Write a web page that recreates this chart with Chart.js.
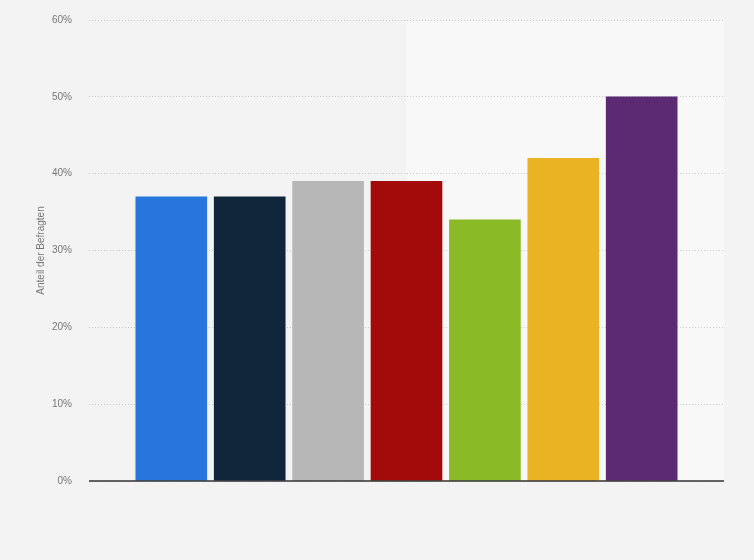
<!DOCTYPE html>
<html lang="de">
<head>
    <meta charset="UTF-8">
    <title>Anteil der Befragten</title>
    <style>
        html, body {
            margin: 0;
            padding: 0;
            background-color: #f3f3f3;
        }

        .chart-box {
            position: relative;
            width: 754px;
            height: 560px;
        }
    </style>
</head>
<body>

<div class="chart-box">
    <canvas id="surveyChart"></canvas>
</div>

<script src="https://cdn.jsdelivr.net/npm/chart.js"></script>
<script>
    // data (no category labels shown)
    const categories = ['1', '2', '3', '4', '5', '6', '7'];
    const shares = [37, 37, 39, 39, 34, 42, 50];
    const barColors = ['#2876dd', '#10263b', '#b7b7b7', '#a30a0a', '#8aba25', '#eab323', '#5c2a73'];
    const yTicks = [0, 10, 20, 30, 40, 50, 60];

    // lighter right half of the plot + solid baseline at 0%
    const plotDecor = {
        id: 'plotDecor',
        beforeDraw(chart) {
            const { ctx, chartArea } = chart;
            const mid = (chartArea.left + chartArea.right) / 2;
            ctx.save();
            ctx.fillStyle = '#f8f8f8';
            ctx.fillRect(mid, chartArea.top, chartArea.right - mid, chartArea.bottom - chartArea.top);
            ctx.restore();
        },
        afterDatasetsDraw(chart) {
            const { ctx, chartArea, scales } = chart;
            const y0 = scales.y.getPixelForValue(0);
            ctx.save();
            ctx.strokeStyle = '#333333';
            ctx.lineWidth = 1.5;
            ctx.beginPath();
            ctx.moveTo(chartArea.left, y0);
            ctx.lineTo(chartArea.right, y0);
            ctx.stroke();
            ctx.restore();
        }
    };

    const ctx = document.getElementById('surveyChart').getContext('2d');
    const surveyChart = new Chart(ctx, {
        type: 'bar',
        data: {
            datasets: [{
                label: 'Anteil der Befragten',
                data: shares.map((v, i) => ({ x: i, y: v })),
                backgroundColor: barColors,
                borderWidth: 0,
                barThickness: 71
            }]
        },
        options: {
            responsive: true,
            maintainAspectRatio: false,
            animation: false,
            layout: {
                padding: { left: 35, right: 30, top: 20, bottom: 79 }
            },
            plugins: {
                legend: { display: false },
                tooltip: { enabled: false }
            },
            scales: {
                x: {
                    type: 'linear',
                    display: false,
                    offset: false,
                    grid: { offset: false },
                    min: -1.05,
                    max: categories.length - 1 + 1.05
                },
                y: {
                    min: 0,
                    max: 60,
                    afterBuildTicks(scale) {
                        scale.ticks = yTicks.map(v => ({ value: v }));
                    },
                    afterFit(scale) {
                        scale.width = 54;
                    },
                    grid: {
                        color: '#c9c9c9',
                        drawTicks: true,
                        tickLength: 14,
                        tickColor: 'rgba(0,0,0,0)'
                    },
                    border: {
                        display: false,
                        dash: [1, 2]
                    },
                    ticks: {
                        padding: 3,
                        color: '#777777',
                        font: { family: 'Liberation Sans, Arial, sans-serif', size: 10 },
                        callback: v => v + '%'
                    },
                    title: {
                        display: true,
                        text: 'Anteil der Befragten',
                        color: '#777777',
                        font: { family: 'Liberation Sans, Arial, sans-serif', size: 10 },
                        padding: { top: 0, bottom: 0 }
                    }
                }
            }
        },
        plugins: [plotDecor]
    });
</script>
</body>
</html>
